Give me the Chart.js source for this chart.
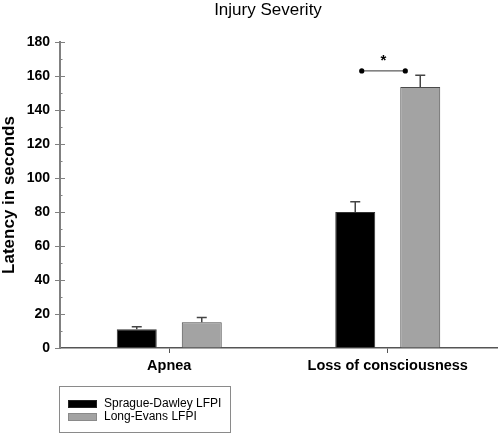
<!DOCTYPE html>
<html>
<head>
<meta charset="utf-8">
<script src="https://cdn.jsdelivr.net/npm/chart.js@4.4.1/dist/chart.umd.min.js"></script>
<style>
  html, body { margin: 0; padding: 0; background: #fff; }
  #wrap { position: relative; width: 498px; height: 433px; }
  #legend {
    position: absolute; left: 59px; top: 386px; width: 170px; height: 45px;
    border: 1px solid #8a8a8a; box-sizing: content-box;
    font: 12px "Liberation Sans", Arial, sans-serif; color: #000;
  }
  #legend .item { position: absolute; left: 8px; height: 13px; line-height: 13px; white-space: nowrap; }
  #legend .swatch { position: absolute; left: 0; top: 3px; width: 27px; height: 6px; border: 1px solid #555; }
  #legend .label { position: absolute; left: 36px; top: 0; }
</style>
</head>
<body>
<div id="wrap">
  <canvas id="chart" width="498" height="433"></canvas>
  <div id="legend"></div>
</div>
<script>
"use strict";

/* =========================================================================
  Data
=========================================================================== */
const CATEGORIES = ["Apnea", "Loss of consciousness"];
const SD_VALUES = [11, 80];
const SD_ERRORS = [1.5, 6];
const LE_VALUES = [15.2, 153.5];
const LE_ERRORS = [2.7, 7];
const Y_MIN = 0;
const Y_MAX = 180;
const Y_STEP = 20;
const SIG_CATEGORY = 1;
const SIG_LEVEL = 163;

const FONT = '"Liberation Sans", Arial, sans-serif';

/* =========================================================================
  Plugins
=========================================================================== */
const chartTitle = {
  id: "chartTitle",
  afterDraw(chart) {
    const { ctx } = chart;
    ctx.save();
    ctx.font = `17px ${FONT}`;
    ctx.fillStyle = "#000";
    ctx.textAlign = "center";
    ctx.textBaseline = "alphabetic";
    ctx.fillText("Injury Severity", 268, 15);
    ctx.restore();
  },
};

// inner half of the major ticks plus the short minor ticks on the y axis
const yTicks = {
  id: "yTicks",
  afterDraw(chart) {
    const { ctx, scales: { y } } = chart;
    const x0 = y.right;
    ctx.save();
    ctx.strokeStyle = "#808080";
    ctx.lineWidth = 1;
    for (let v = Y_MIN + Y_STEP / 2; v <= Y_MAX; v += Y_STEP / 2) {
      const py = Math.round(y.getPixelForValue(v)) + 0.5;
      const len = v % Y_STEP === 0 ? 5 : 2.5;
      ctx.beginPath();
      ctx.moveTo(x0, py);
      ctx.lineTo(x0 + len, py);
      ctx.stroke();
    }
    ctx.restore();
  },
};

const errorBars = {
  id: "errorBars",
  afterDatasetsDraw(chart) {
    const { ctx, scales: { y } } = chart;
    const errs = [SD_ERRORS, LE_ERRORS];
    ctx.save();
    ctx.strokeStyle = "#444";
    ctx.lineWidth = 1.5;
    chart.data.datasets.forEach((ds, di) => {
      const meta = chart.getDatasetMeta(di);
      meta.data.forEach((bar, i) => {
        const top = y.getPixelForValue(ds.data[i] + errs[di][i]);
        ctx.beginPath();
        ctx.moveTo(bar.x, bar.y);
        ctx.lineTo(bar.x, top);
        ctx.moveTo(bar.x - 5, top);
        ctx.lineTo(bar.x + 5, top);
        ctx.stroke();
      });
    });
    ctx.restore();
  },
};

const significance = {
  id: "significance",
  afterDatasetsDraw(chart) {
    const { ctx, scales: { y } } = chart;
    const a = chart.getDatasetMeta(0).data[SIG_CATEGORY].x;
    const b = chart.getDatasetMeta(1).data[SIG_CATEGORY].x;
    const x1 = a + (b - a) * 0.1;
    const x2 = a + (b - a) * 0.77;
    const py = y.getPixelForValue(SIG_LEVEL);
    ctx.save();
    ctx.strokeStyle = "#333";
    ctx.lineWidth = 1;
    ctx.beginPath();
    ctx.moveTo(x1, py);
    ctx.lineTo(x2, py);
    ctx.stroke();
    ctx.fillStyle = "#000";
    [x1, x2].forEach((x) => {
      ctx.beginPath();
      ctx.arc(x, py, 2.6, 0, Math.PI * 2);
      ctx.fill();
    });
    ctx.font = `bold 15px ${FONT}`;
    ctx.textAlign = "center";
    ctx.textBaseline = "middle";
    ctx.fillText("*", (x1 + x2) / 2, py - 10);
    ctx.restore();
  },
};

/* =========================================================================
  Chart
=========================================================================== */
const chart = new Chart(document.getElementById("chart"), {
  type: "bar",
  data: {
    labels: CATEGORIES,
    datasets: [
      {
        label: "Sprague-Dawley LFPI",
        data: SD_VALUES,
        backgroundColor: "#000000",
        borderColor: "#333333",
        borderWidth: 1,
      },
      {
        label: "Long-Evans LFPI",
        data: LE_VALUES,
        backgroundColor: "#a3a3a3",
        borderColor: "#4a4a4a",
        borderWidth: 1,
      },
    ],
  },
  options: {
    responsive: false,
    animation: false,
    devicePixelRatio: 1,
    categoryPercentage: 0.595,
    barPercentage: 0.615,
    layout: { padding: { top: 42, right: 1, bottom: 60, left: 0 } },
    plugins: {
      legend: { display: false },
      title: { display: false },
      tooltip: { enabled: false },
    },
    scales: {
      x: {
        afterFit: (s) => { s.height = 25; },
        border: { display: true, color: "#555", width: 1.5 },
        grid: {
          offset: false,
          drawOnChartArea: false,
          drawTicks: true,
          tickLength: 5,
          tickColor: "#555",
        },
        ticks: {
          color: "#000",
          padding: 4,
          font: { family: FONT, size: 14.5, weight: "bold" },
        },
      },
      y: {
        min: Y_MIN,
        max: Y_MAX,
        afterFit: (s) => { s.width = 60; },
        border: { display: true, color: "#808080", width: 2 },
        grid: {
          drawOnChartArea: false,
          drawTicks: true,
          tickLength: 5,
          tickColor: "#808080",
        },
        ticks: {
          stepSize: Y_STEP,
          color: "#000",
          padding: 5,
          font: { family: FONT, size: 14, weight: "bold" },
        },
        title: {
          display: true,
          text: "Latency in seconds",
          color: "#000",
          padding: { top: 0, bottom: 0 },
          font: { family: FONT, size: 17, weight: "bold", lineHeight: 1.1 },
        },
      },
    },
  },
  plugins: [chartTitle, yTicks, errorBars, significance],
});

/* =========================================================================
  Legend
=========================================================================== */
function buildLegend(chart) {
  const box = document.getElementById("legend");
  chart.data.datasets.forEach((ds, i) => {
    const item = document.createElement("div");
    item.className = "item";
    item.style.top = `${10 + i * 12.5}px`;
    const sw = document.createElement("span");
    sw.className = "swatch";
    sw.style.background = ds.backgroundColor;
    sw.style.borderColor = i === 0 ? "#222" : "#8a8a8a";
    const lab = document.createElement("span");
    lab.className = "label";
    lab.textContent = ds.label;
    item.appendChild(sw);
    item.appendChild(lab);
    box.appendChild(item);
  });
}
buildLegend(chart);
</script>
</body>
</html>
